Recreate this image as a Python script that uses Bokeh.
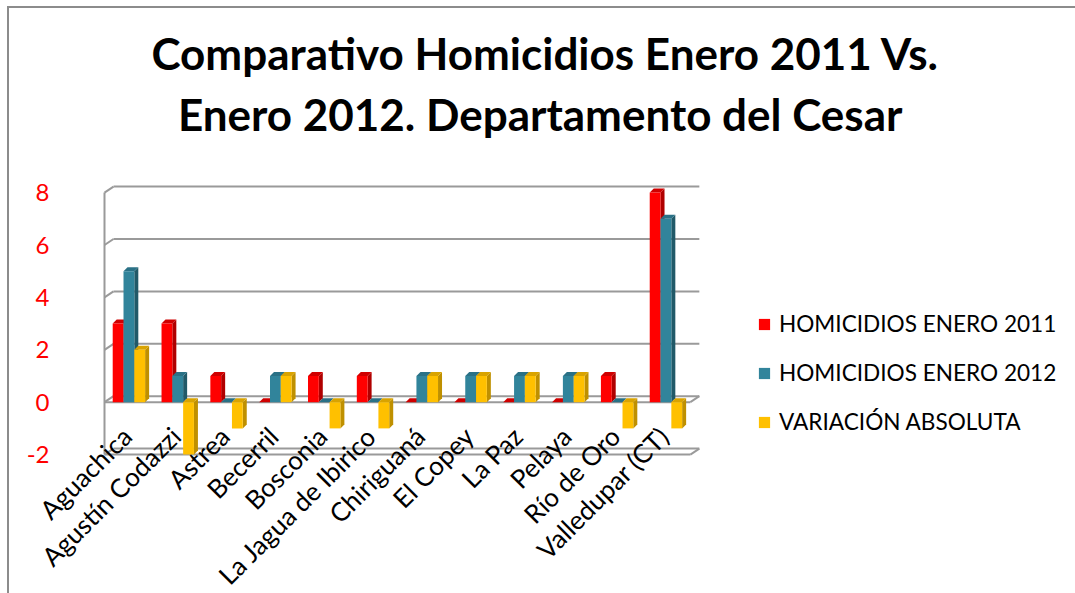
import numpy as np
from bokeh.plotting import figure
from bokeh.models import Range1d, Legend, LegendItem, Label
from bokeh.core.properties import value
from bokeh.embed import file_html
from bokeh.resources import INLINE

categories = ["Aguachica", "Agustín Codazzi", "Astrea", "Becerril", "Bosconia",
              "La Jagua de Ibirico", "Chiriguaná", "El Copey", "La Paz", "Pelaya",
              "Río de Oro", "Valledupar (CT)"]
h2011 = [3, 3, 1, 0, 1, 1, 0, 0, 0, 0, 1, 8]
h2012 = [5, 1, 0, 1, 0, 0, 1, 1, 1, 1, 0, 7]
variacion = [2, -2, -1, 1, -1, -1, 1, 1, 1, 1, -1, -1]
series_names = ["HOMICIDIOS ENERO 2011", "HOMICIDIOS ENERO 2012", "VARIACIÓN ABSOLUTA"]
y_ticks = [-2, 0, 2, 4, 6, 8]
y_tick_labels = ["-2", "0", "2", "4", "6", "8"]
title_lines = ["Comparativo Homicidios Enero 2011 Vs.", "Enero 2012.  Departamento del Cesar"]

FONT = "Lato"
W, H = 1075, 593
LEFT = 104                # pixel where the first category starts (y axis)
PX_X = 48.82              # pixels per category
Y0_PX = 401.7             # pixel row of value 0 (front plane)
PX_Y = 26.2               # pixels per unit

n = len(categories)
x_start, x_end = -LEFT / PX_X, (W - LEFT) / PX_X
y_top, y_bot = Y0_PX / PX_Y, (Y0_PX - H) / PX_Y

p = figure(width=W, height=H, output_backend="svg", toolbar_location=None,
           x_range=Range1d(x_start, x_end), y_range=Range1d(y_bot, y_top),
           min_border=0)
p.styles = {
    "background-image": "linear-gradient(#8c8c8c,#8c8c8c), linear-gradient(#8c8c8c,#8c8c8c)",
    "background-size": "2px 100%, 100% 2px",
    "background-position": "7px 6px, 7px 6px",
    "background-repeat": "no-repeat",
}
p.outline_line_color = None
p.background_fill_color = None
p.border_fill_color = None
p.grid.visible = False
p.axis.visible = False

# 3D walls / grid
GRID = "#9A9A9A"
dxb, dyb = 9 / PX_X, 6 / PX_Y
ticks = np.array(y_ticks, dtype=float)
p.segment(x0=dxb, y0=ticks + dyb, x1=n + dxb, y1=ticks + dyb, line_color=GRID, line_width=2)
p.segment(x0=0, y0=ticks, x1=dxb, y1=ticks + dyb, line_color=GRID, line_width=2)
floor = np.array([t for t in y_ticks if t <= 0], dtype=float)
p.segment(x0=0, y0=floor, x1=n, y1=floor, line_color=GRID, line_width=2)
p.segment(x0=n, y0=floor, x1=n + dxb, y1=floor + dyb, line_color=GRID, line_width=2)
p.segment(x0=0, y0=min(y_ticks), x1=0, y1=max(y_ticks), line_color=GRID, line_width=2)

# y tick labels
YLAB_X = (49 - LEFT) / PX_X
p.text(x=[YLAB_X] * len(y_ticks), y=y_ticks, text=y_tick_labels,
       text_align="right", text_baseline="middle", text_font=value(FONT),
       text_font_size="24px", text_color="#FF0000")

# bars
bar_w = 10.8 / PX_X
dx, dy = 4 / PX_X, 4 / PX_Y
offsets = [-bar_w, 0.0, bar_w]
styles = [("#FF0000", "#B00000", "#D00000"),
          ("#31849B", "#215968", "#2A7186"),
          ("#FFC000", "#BF9000", "#D9A300")]
centers = np.arange(n) + 0.5
renderers = []
for k, vals in enumerate([h2011, h2012, variacion]):
    front, side, top = styles[k]
    v = np.array(vals, dtype=float)
    xc = centers + offsets[k]
    lo, hi = np.minimum(v, 0), np.maximum(v, 0)
    left, right = xc - bar_w / 2, xc + bar_w / 2
    p.patches([[r, r + dx, r + dx, r] for r in right],
              [[b, b + dy, t + dy, t] for b, t in zip(lo, hi)],
              fill_color=side, line_color=None)
    p.patches([[l, l + dx, r + dx, r] for l, r in zip(left, right)],
              [[t, t + dy, t + dy, t] for t in hi],
              fill_color=top, line_color=None)
    renderers.append(p.quad(left=left, right=right, bottom=lo, top=hi,
                            fill_color=front, line_color=None))

# category labels
LABEL_Y = (Y0_PX - 431) / PX_Y
p.text(x=centers, y=[LABEL_Y] * n, text=categories, angle=np.pi / 4,
       text_align="right", text_baseline="middle", text_font=value(FONT),
       text_font_size="26px", text_color="black", x_offset=-2)

# title
for i, line in enumerate(title_lines):
    p.add_layout(Label(x=545, y=H - (52 + 61 * i), x_units="screen", y_units="screen",
                       text=line, text_align="center", text_baseline="alphabetic",
                       text_font=FONT, text_font_style="bold",
                       text_font_size="44px", text_color="black"))

legend = Legend(items=[LegendItem(label=nm, renderers=[r])
                       for nm, r in zip(series_names, renderers)],
                location=(757, H - 435), orientation="vertical",
                border_line_color=None, background_fill_alpha=0,
                padding=0, margin=0, spacing=22, glyph_width=14, glyph_height=14,
                label_standoff=8, label_height=24,
                label_text_font=FONT, label_text_font_size="22.6px",
                label_text_color="black")
p.add_layout(legend, "center")

open("out.html", "w").write(file_html(p, INLINE))
